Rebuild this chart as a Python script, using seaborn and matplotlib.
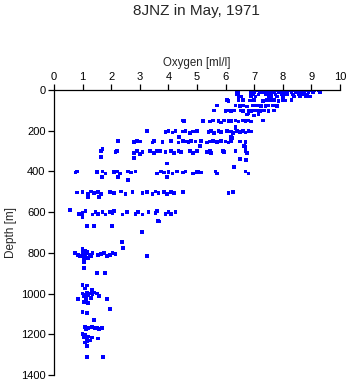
import matplotlib
matplotlib.use("Agg")
import matplotlib.pyplot as plt
import seaborn as sns
import pandas as pd

# Dissolved oxygen [ml/l] against sampling depth [m], grouped by depth band
o2_surface = [6.40, 6.90, 7.10, 7.30, 7.40, 7.60, 7.80, 7.90, 8.10, 8.20, 8.40, 8.50,
              8.60, 8.70, 8.80, 8.90, 9.00, 9.10, 9.25,
              6.45, 6.90, 7.00, 7.20, 7.35, 7.50, 7.70, 7.85, 8.00, 8.30, 8.45, 8.60,
              8.75, 8.90, 9.05, 9.30,
              6.40, 6.95, 7.15, 7.40, 7.55, 7.75, 7.95, 8.15, 8.35, 8.55, 8.70, 8.85,
              6.45, 6.55, 6.90, 7.05, 7.50, 7.60, 7.80, 8.00, 8.40, 8.60, 8.80, 8.95]
z_surface = [0, 0, 2, 0, 1, 0, 2, 0, 1, 0, 2, 0,
             1, 0, 2, 0, 1, 0, 2,
             10, 10, 9, 11, 10, 8, 10, 11, 9, 10, 12, 10,
             9, 11, 10, 12,
             20, 20, 21, 19, 20, 22, 20, 19, 21, 20, 20, 22,
             30, 32, 30, 31, 29, 30, 32, 30, 31, 29, 30, 31]

o2_upper = [6.05, 6.10, 6.45, 6.60, 6.85, 7.00, 7.30, 7.45, 7.55, 7.70, 7.85, 8.00, 8.10, 8.30,
            5.70, 6.35, 6.50, 6.60, 6.75, 6.95, 7.10, 7.25, 7.40, 7.50, 7.65, 7.80,
            5.60, 6.00, 6.10, 6.20, 6.30, 6.55, 6.60, 6.80, 6.90, 7.00, 7.10, 7.20, 7.35, 7.50, 7.70,
            6.80, 7.15, 7.00, 6.75]
z_upper = [50, 52, 50, 49, 51, 50, 52, 50, 48, 50, 52, 50, 51, 50,
           75, 76, 78, 75, 80, 76, 75, 78, 77, 75, 76, 78,
           100, 102, 100, 103, 101, 100, 104, 100, 102, 100, 101, 103, 100, 102, 100,
           113, 118, 125, 120]

o2_thermo = [4.50, 4.55, 5.20, 5.45, 5.55, 5.75, 5.85, 5.95, 6.10, 6.20, 6.35, 6.45, 6.60,
             6.70, 6.80, 6.90, 7.30, 6.35, 6.35,
             3.25, 3.90, 4.00, 4.15, 4.25, 4.50, 4.60, 4.75, 4.85, 5.00, 5.40, 5.50, 5.60,
             5.75, 5.85, 6.05, 6.20, 6.25, 6.40, 6.50, 6.60, 6.70, 6.80, 6.90,
             4.37, 6.19, 6.22,
             2.24, 2.80, 2.90, 3.00, 3.45, 3.50, 3.80, 4.10, 4.35, 4.50, 4.60, 4.70, 4.80,
             4.95, 5.15, 5.35, 5.45, 5.55, 5.70, 5.85, 6.00, 6.10, 6.20, 6.50, 6.70,
             5.10, 6.65, 6.70]
z_thermo = [150, 152, 152, 155, 150, 152, 160, 150, 153, 151, 150, 155, 150,
            152, 150, 155, 150, 180, 187,
            200, 205, 201, 208, 200, 204, 200, 210, 203, 200, 205, 201, 210,
            200, 207, 200, 203, 210, 200, 205, 200, 208, 201, 203,
            230, 231, 237,
            250, 255, 250, 252, 258, 250, 254, 250, 257, 250, 252, 255, 250,
            253, 250, 258, 252, 250, 255, 250, 252, 258, 250, 252, 255,
            275, 275, 280]

o2_mid = [1.65, 1.70, 2.15, 2.20, 2.80, 2.90, 3.00, 3.10, 3.35, 3.50, 3.60, 3.70, 3.90,
          4.10, 4.20, 4.35, 4.45, 4.75, 4.85, 5.00, 5.35, 5.45, 5.50, 5.90, 5.95, 6.35,
          6.70, 6.75,
          1.64, 2.80, 6.50, 6.71, 3.95, 6.29,
          0.75, 0.80, 1.50, 1.70, 1.80, 2.10, 2.20, 2.30, 2.60, 2.70, 2.85, 3.60, 3.75,
          3.85, 4.00, 4.15, 4.30, 4.50, 4.60, 4.85, 5.00, 5.05, 5.15, 5.65, 5.70, 6.70,
          6.80,
          1.68, 2.24, 3.95, 2.59,
          0.80, 1.00, 1.20, 1.30, 1.40, 1.55, 1.65, 1.95, 2.10, 2.35, 2.50, 2.75, 3.10,
          3.25, 3.45, 3.55, 3.65, 3.85, 3.95, 4.10, 4.20, 4.50, 6.10, 6.25, 1.19, 1.57]
z_mid = [300, 290, 305, 300, 310, 300, 315, 303, 300, 310, 300, 298, 305,
         300, 310, 300, 305, 300, 310, 300, 305, 300, 310, 300, 305, 300,
         300, 310,
         330, 334, 339, 344, 360, 378,
         405, 400, 403, 400, 410, 403, 400, 410, 400, 405, 400, 410, 400,
         405, 403, 410, 400, 405, 400, 410, 403, 400, 405, 400, 410, 400,
         410,
         427, 427, 427, 442,
         503, 500, 510, 498, 505, 500, 512, 500, 505, 498, 510, 500, 505,
         500, 510, 498, 505, 500, 512, 500, 505, 500, 505, 500, 526, 524]

o2_deep = [0.56, 0.87, 1.00, 1.10, 1.35, 1.45, 1.55, 1.70, 1.80, 1.95, 2.05, 2.10, 2.40,
           2.55, 2.85, 2.95, 3.10, 3.30, 3.55, 3.60, 3.90, 4.00, 4.10, 4.25,
           1.00, 3.64, 3.67, 1.15, 1.40, 2.03, 3.08, 2.38, 2.41,
           0.73, 0.85, 0.92, 1.00, 1.03, 1.05, 1.10, 1.15, 1.20, 1.25, 1.30, 1.35, 1.55,
           1.65, 1.75, 1.85, 1.95, 2.05, 2.15, 3.25, 1.05, 1.10, 1.00, 1.15,
           1.05, 1.05, 1.50, 1.78,
           1.00, 1.08, 1.15, 1.33,
           0.85, 1.00, 1.05, 1.10, 1.12, 1.15, 1.20, 1.25, 1.30, 1.35, 1.40, 1.50, 1.57,
           1.85, 1.05, 1.12, 1.20,
           1.96, 1.00, 1.15, 1.40,
           1.08, 1.12, 1.19, 1.33, 1.43, 1.50, 1.57, 1.68,
           1.00, 1.05, 1.10, 1.15, 1.20, 1.25, 1.33, 1.54, 1.08, 1.15,
           1.15, 1.15, 1.71]
z_deep = [590, 610, 605, 595, 612, 600, 608, 598, 612, 600, 605, 595, 612,
          600, 608, 598, 612, 600, 605, 595, 610, 600, 608, 598,
          624, 643, 645, 668, 668, 668, 697, 747, 775,
          800, 810, 815, 800, 820, 805, 812, 800, 825, 808, 815, 800, 810,
          805, 800, 815, 810, 800, 805, 815, 830, 790, 780, 795,
          845, 874, 899, 899,
          958, 975, 960, 982,
          1027, 1000, 1015, 1005, 1020, 995, 1010, 1000, 1020, 1005, 995, 1000, 1012,
          1027, 1040, 1030, 1045,
          1076, 1090, 1095, 1130,
          1165, 1175, 1170, 1164, 1170, 1168, 1175, 1168,
          1200, 1215, 1205, 1225, 1210, 1230, 1215, 1220, 1240, 1235,
          1257, 1311, 1311]

frames = []
for o2, z in [(o2_surface, z_surface), (o2_upper, z_upper), (o2_thermo, z_thermo),
              (o2_mid, z_mid), (o2_deep, z_deep)]:
    frames.append(pd.DataFrame({"oxygen": o2, "depth": z}))
casts = pd.concat(frames, ignore_index=True)

sns.set_theme(style="white")
plt.rcParams["font.family"] = ["Liberation Sans", "DejaVu Sans"]

fig = plt.figure(figsize=(3.48, 3.84), dpi=100)
ax = fig.add_axes([0.155, 0.0234, 0.822, 0.742])

sns.scatterplot(data=casts, x="oxygen", y="depth", ax=ax, marker="s", s=7,
                color="#0000ff", edgecolor="none", linewidth=0, legend=False)

ax.set_xlim(0, 10)
ax.set_ylim(1400, 0)
ax.set_xticks(range(0, 11))
ax.set_yticks(range(0, 1401, 200))

ax.xaxis.set_ticks_position("top")
ax.xaxis.set_label_position("top")
for side in ("right", "bottom"):
    ax.spines[side].set_visible(False)
for side in ("left", "top"):
    ax.spines[side].set_color("black")
    ax.spines[side].set_linewidth(0.9)

ax.tick_params(axis="both", direction="out", length=4, width=0.9, colors="black",
               labelsize=8, pad=2)
ax.tick_params(axis="x", top=True, bottom=False, labeltop=True, labelbottom=False)
ax.tick_params(axis="y", left=True, right=False)

ax.set_xlabel("Oxygen [ml/l]", fontsize=8.3, labelpad=4)
ax.set_ylabel("Depth [m]", fontsize=8.5, labelpad=3)
fig.text(0.565, 0.972, "8JNZ in May, 1971", ha="center", va="center", fontsize=11)

fig.savefig("out.png", dpi=100)
